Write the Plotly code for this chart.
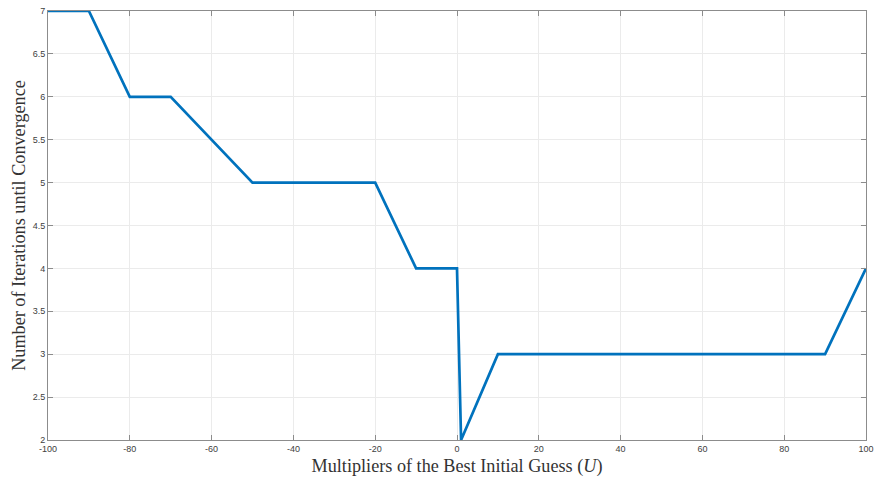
import plotly.graph_objects as go

multipliers = [-100, -90, -80, -70, -50, -40, -30, -20, -10, 0, 1, 10, 20, 30, 40, 50, 60, 70, 80, 90, 100]
iterations = [7, 7, 6, 6, 5, 5, 5, 5, 4, 4, 2, 3, 3, 3, 3, 3, 3, 3, 3, 3, 4]

x_ticks = [-100, -80, -60, -40, -20, 0, 20, 40, 60, 80, 100]
y_ticks = [2, 2.5, 3, 3.5, 4, 4.5, 5, 5.5, 6, 6.5, 7]

fig = go.Figure()
fig.add_trace(go.Scatter(x=multipliers, y=iterations, mode="lines",
                         line=dict(color="#0072BD", width=2.7), showlegend=False))

axis_common = dict(
    showline=True, linecolor="#8c8c8c", linewidth=1, mirror="ticks",
    ticks="inside", ticklen=5, tickcolor="#8c8c8c",
    showgrid=True, gridcolor="#ebebeb", gridwidth=1,
    zeroline=False, automargin=False,
    tickfont=dict(family="Liberation Sans, Arial", size=9, color="#404040"),
)

title_font = dict(family="Liberation Serif, DejaVu Serif", size=18.2, color="#333333")

fig.update_layout(
    width=875, height=479,
    margin=dict(l=48, r=9, t=11, b=39),
    paper_bgcolor="white", plot_bgcolor="white",
    xaxis=dict(range=[-100, 100], tickvals=x_ticks, ticktext=[str(v) for v in x_ticks],
               title=dict(text="Multipliers of the Best Initial Guess (<i>U</i>)",
                          font=title_font, standoff=6),
               **axis_common),
    yaxis=dict(range=[2, 7], tickvals=y_ticks, ticktext=[f"{v:g}" for v in y_ticks],
               title=dict(text="Number of Iterations until Convergence",
                          font=title_font, standoff=2),
               **axis_common),
)

fig.write_html("out.html")
